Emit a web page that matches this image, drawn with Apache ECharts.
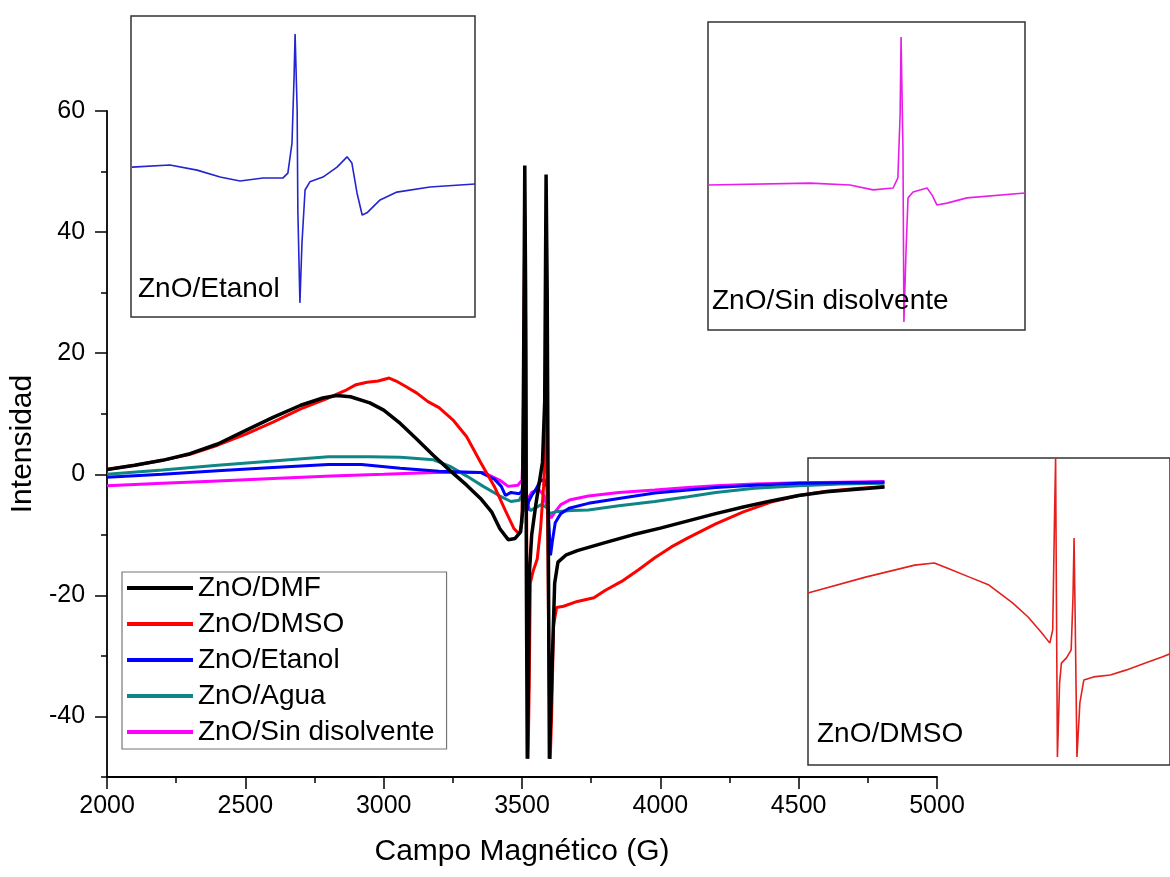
<!DOCTYPE html>
<html>
<head>
<meta charset="utf-8">
<script src="https://cdn.jsdelivr.net/npm/echarts@6/dist/echarts.min.js"></script>
<style>html,body{margin:0;padding:0;background:#fff;}#c{width:1170px;height:877px;}</style>
</head>
<body>
<div id="c"></div>
<script>
// ---- Data ----
const seriesNames = ['ZnO/DMF', 'ZnO/DMSO', 'ZnO/Etanol', 'ZnO/Agua', 'ZnO/Sin disolvente'];
const xTicks = [2000, 2500, 3000, 3500, 4000, 4500, 5000];
const yTickLabels = [-40, -20, 0, 20, 40, 60];
const yMinorTicks = [-50, -30, -10, 10, 30, 50];

const dmf = [[2000,0.8],[2100,1.5],[2200,2.3],[2300,3.4],[2400,5.0],[2500,7.2],[2600,9.4],[2700,11.4],[2780,12.6],[2830,13.0],[2880,12.8],[2950,11.8],[3000,10.6],[3060,8.4],[3120,5.8],[3180,3.1],[3240,0.6],[3300,-1.8],[3350,-4.0],[3390,-6.2],[3420,-9.0],[3450,-10.8],[3475,-10.6],[3495,-9.5],[3502,-6],[3506,20],[3510,51],[3513,30],[3516,-20],[3519,-47],[3523,-35],[3527,-16],[3535,-10],[3550,-5],[3562,-1.5],[3574,2],[3582,12],[3587,49.5],[3591,30],[3595,-10],[3599,-47],[3604,-47],[3610,-30],[3618,-18],[3630,-14.5],[3660,-13.3],[3700,-12.6],[3800,-11.3],[3900,-10.0],[4000,-8.9],[4100,-7.7],[4200,-6.5],[4300,-5.4],[4400,-4.4],[4500,-3.5],[4600,-2.9],[4700,-2.5],[4810,-2.1]];
const dmso = [[2000,0.8],[2100,1.5],[2200,2.3],[2300,3.3],[2400,4.8],[2500,6.6],[2600,8.6],[2700,10.8],[2800,12.6],[2860,13.8],[2900,14.8],[2940,15.2],[2980,15.4],[3020,15.9],[3045,15.4],[3080,14.5],[3120,13.4],[3160,12.0],[3200,11.0],[3250,9.0],[3300,6.2],[3350,2.0],[3400,-2.0],[3440,-6.0],[3470,-8.9],[3490,-9.9],[3500,-8],[3505,10],[3510,43],[3514,20],[3518,-20],[3522,-47],[3526,-35],[3530,-18],[3540,-16],[3555,-14],[3567,-9],[3578,-2],[3584,5],[3588,14],[3592,-5],[3597,-30],[3602,-47],[3607,-40],[3614,-25],[3625,-22],[3650,-21.8],[3700,-21],[3760,-20.4],[3800,-19.2],[3860,-17.7],[3920,-15.8],[3980,-13.8],[4040,-12],[4100,-10.5],[4200,-8.2],[4300,-6.2],[4400,-4.6],[4500,-3.5],[4600,-2.8],[4700,-2.4],[4810,-2.0]];
const etanol = [[2000,-0.5],[2200,0.0],[2400,0.6],[2600,1.1],[2800,1.6],[2920,1.6],[3060,1.0],[3200,0.5],[3350,0.3],[3400,-0.8],[3425,-2.0],[3440,-3.5],[3460,-3.0],[3490,-3.2],[3500,-2.8],[3506,0],[3510,3],[3514,-1],[3519,-6],[3524,-4.5],[3535,-3.5],[3550,-2.5],[3565,-1.2],[3580,-0.8],[3590,-2],[3597,-8],[3603,-13.4],[3610,-11],[3620,-8],[3640,-6.5],[3670,-5.6],[3740,-4.8],[3850,-4.0],[3980,-3.1],[4100,-2.6],[4200,-2.2],[4340,-1.8],[4500,-1.5],[4650,-1.4],[4810,-1.3]];
const agua = [[2000,0.0],[2200,0.7],[2400,1.5],[2600,2.2],[2800,2.9],[2950,2.9],[3060,2.8],[3180,2.4],[3240,1.3],[3300,-0.3],[3360,-2.0],[3420,-3.6],[3460,-4.5],[3490,-4.3],[3505,-3],[3512,-1],[3518,-5],[3530,-6],[3550,-5.5],[3570,-5.0],[3590,-5.5],[3600,-6.5],[3620,-6.2],[3680,-6.0],[3740,-5.9],[3850,-5.2],[3980,-4.5],[4100,-3.7],[4200,-3.0],[4340,-2.3],[4500,-1.9],[4650,-1.6],[4810,-1.5]];
const sinDisolvente = [[2000,-1.9],[2200,-1.5],[2400,-1.1],[2600,-0.7],[2810,-0.3],[3000,0.0],[3180,0.3],[3360,0.3],[3420,-1.0],[3450,-2.0],[3485,-1.8],[3500,-1],[3505,5],[3509,14],[3513,0],[3517,-6],[3522,-4],[3535,-3],[3560,-2.5],[3580,-3.5],[3595,-6.5],[3605,-7.2],[3615,-6.5],[3640,-5],[3675,-4.2],[3740,-3.6],[3850,-3.0],[3980,-2.6],[4100,-2.2],[4200,-1.9],[4340,-1.6],[4500,-1.4],[4650,-1.3],[4810,-1.2]];

// Inset spectra (relative units 0-100 inside each inset box)
const insetEtanol = [[0.3,49.8],[11.3,50.5],[19.2,48.8],[25.9,46.5],[31.7,45.2],[38.4,46.2],[44.2,46.2],[45.6,47.8],[46.8,57.8],[47.4,79.7],[47.7,94.0],[48.3,68.8],[48.5,35.5],[49.1,4.7],[49.7,24.6],[50.6,42.2],[52.0,44.9],[55.8,46.5],[59.9,49.8],[62.8,53.2],[64.2,51.2],[65.7,41.2],[67.2,33.9],[68.6,34.6],[72.4,38.9],[77.3,41.5],[86.9,43.2],[100,44.2]];
const insetSin = [[0,47.1],[32.2,47.7],[44.8,47.1],[52.1,45.5],[58.4,46.1],[59.9,49.4],[60.6,69.8],[60.9,95.1],[61.5,59.1],[61.8,2.6],[62.5,26.6],[63.1,42.9],[64.7,44.8],[69.1,46.1],[70.7,43.8],[72.2,40.6],[75.4,41.2],[81.7,42.9],[100,44.5]];
const insetDmso = [[0,56.0],[15.9,61.2],[29.5,65.1],[34.9,65.8],[38.4,64.2],[44.6,61.2],[50.0,58.6],[56.5,52.8],[60.8,48.2],[64.6,43.0],[66.8,39.7],[67.6,44.0],[68.1,80.8],[68.4,100],[68.6,59.3],[68.9,2.6],[69.5,26.7],[70.0,33.2],[71.4,34.9],[72.7,37.5],[73.2,54.7],[73.5,73.9],[73.8,48.2],[74.3,2.6],[75.1,20.2],[76.2,27.7],[78.9,28.7],[83.5,29.3],[87.8,30.9],[93.2,33.2],[97.8,35.2],[100,36.2]];

const FONT = 'Liberation Sans, Arial, Helvetica, sans-serif';
const chart = echarts.init(document.getElementById('c'), null, {renderer: 'canvas'});

function insetAxes(gi) {
  return {
    x: {type: 'value', gridIndex: gi, min: 0, max: 100, show: false},
    y: {type: 'value', gridIndex: gi, min: 0, max: 100, show: false}
  };
}
const a1 = insetAxes(1), a2 = insetAxes(2), a3 = insetAxes(3);

const option = {
  backgroundColor: '#fff',
  animation: false,
  grid: [
    {left: 106, right: 233, top: 111, bottom: 100},
    {left: 131, top: 16, width: 344, height: 301, show: true, backgroundColor: '#fff', borderColor: '#333', borderWidth: 1.5},
    {left: 708, top: 22, width: 317, height: 308, show: true, backgroundColor: '#fff', borderColor: '#333', borderWidth: 1.5},
    {left: 808, top: 458, width: 372, height: 307, show: true, backgroundColor: '#fff', borderColor: '#333', borderWidth: 1.5}
  ],
  xAxis: [
    {
      type: 'value', gridIndex: 0, min: 2000, max: 5000, interval: 500,
      name: 'Campo Magnético (G)', nameLocation: 'middle', nameGap: 75,
      nameTextStyle: {fontFamily: FONT, fontSize: 30, color: '#000', verticalAlign: 'middle'},
      axisLine: {show: true, onZero: false, lineStyle: {color: '#000', width: 1.8}},
      axisTick: {show: true, inside: false, length: 12, lineStyle: {color: '#000', width: 1.5}},
      minorTick: {show: true, splitNumber: 2, length: 6, lineStyle: {color: '#000', width: 1.5}},
      axisLabel: {fontFamily: FONT, fontSize: 25, color: '#000', margin: 17,
        customValues: xTicks, formatter: function (v) { return String(v); }},
      splitLine: {show: false}
    },
    a1.x, a2.x, a3.x
  ],
  yAxis: [
    {
      type: 'value', gridIndex: 0, min: -50, max: 60,
      name: 'Intensidad', nameLocation: 'middle', nameGap: 83,
      nameTextStyle: {fontFamily: FONT, fontSize: 30, color: '#000', verticalAlign: 'middle'},
      axisLine: {show: true, onZero: false, lineStyle: {color: '#000', width: 1.8}},
      axisTick: {show: true, inside: false, length: 12, customValues: yTickLabels, lineStyle: {color: '#000', width: 1.5}},
      axisLabel: {fontFamily: FONT, fontSize: 25, color: '#000', margin: 22, customValues: yTickLabels,
        formatter: function (v) { return String(v); }},
      splitLine: {show: false}
    },
    a1.y, a2.y, a3.y,
    {
      type: 'value', gridIndex: 0, min: -50, max: 60, position: 'left', offset: 0,
      axisLine: {show: false},
      axisTick: {show: true, inside: false, length: 6, customValues: yMinorTicks, lineStyle: {color: '#000', width: 1.5}},
      axisLabel: {show: false},
      splitLine: {show: false}
    }
  ],
  legend: {
    data: seriesNames,
    orient: 'vertical', left: 122, top: 572,
    icon: 'rect', itemWidth: 66, itemHeight: 4, itemGap: 8,
    padding: [2, 12, 3, 5],
    backgroundColor: '#fff', borderColor: '#777', borderWidth: 1.2,
    textStyle: {fontFamily: FONT, fontSize: 28, color: '#000', lineHeight: 28},
    z: 10
  },
  series: [
    {name: 'ZnO/Sin disolvente', type: 'line', data: sinDisolvente, xAxisIndex: 0, yAxisIndex: 0, showSymbol: false, symbol: 'none', lineStyle: {color: '#ff00ff', width: 3}, itemStyle: {color: '#ff00ff'}, z: 3},
    {name: 'ZnO/Agua', type: 'line', data: agua, xAxisIndex: 0, yAxisIndex: 0, showSymbol: false, symbol: 'none', lineStyle: {color: '#108585', width: 3}, itemStyle: {color: '#108585'}, z: 3},
    {name: 'ZnO/Etanol', type: 'line', data: etanol, xAxisIndex: 0, yAxisIndex: 0, showSymbol: false, symbol: 'none', lineStyle: {color: '#0000ff', width: 3}, itemStyle: {color: '#0000ff'}, z: 3},
    {name: 'ZnO/DMSO', type: 'line', data: dmso, xAxisIndex: 0, yAxisIndex: 0, showSymbol: false, symbol: 'none', lineStyle: {color: '#ff0000', width: 3}, itemStyle: {color: '#ff0000'}, z: 3},
    {name: 'ZnO/DMF', type: 'line', data: dmf, xAxisIndex: 0, yAxisIndex: 0, showSymbol: false, symbol: 'none', lineStyle: {color: '#000000', width: 3.5}, itemStyle: {color: '#000000'}, z: 4},
    {name: 'inset-etanol', type: 'line', data: insetEtanol, xAxisIndex: 1, yAxisIndex: 1, showSymbol: false, symbol: 'none', lineStyle: {color: '#2424d0', width: 1.6}, z: 2},
    {name: 'inset-sin', type: 'line', data: insetSin, xAxisIndex: 2, yAxisIndex: 2, showSymbol: false, symbol: 'none', lineStyle: {color: '#e81ee8', width: 1.6}, z: 2},
    {name: 'inset-dmso', type: 'line', data: insetDmso, xAxisIndex: 3, yAxisIndex: 3, showSymbol: false, symbol: 'none', lineStyle: {color: '#e3201c', width: 1.6}, z: 2}
  ],
  graphic: [
    {type: 'text', left: 138, top: 275, z: 20, style: {text: 'ZnO/Etanol', font: '28px ' + FONT, fill: '#000'}},
    {type: 'text', left: 712, top: 287, z: 20, style: {text: 'ZnO/Sin disolvente', font: '28px ' + FONT, fill: '#000'}},
    {type: 'text', left: 817, top: 720, z: 20, style: {text: 'ZnO/DMSO', font: '28px ' + FONT, fill: '#000'}}
  ]
};
chart.setOption(option);
</script>
</body>
</html>
